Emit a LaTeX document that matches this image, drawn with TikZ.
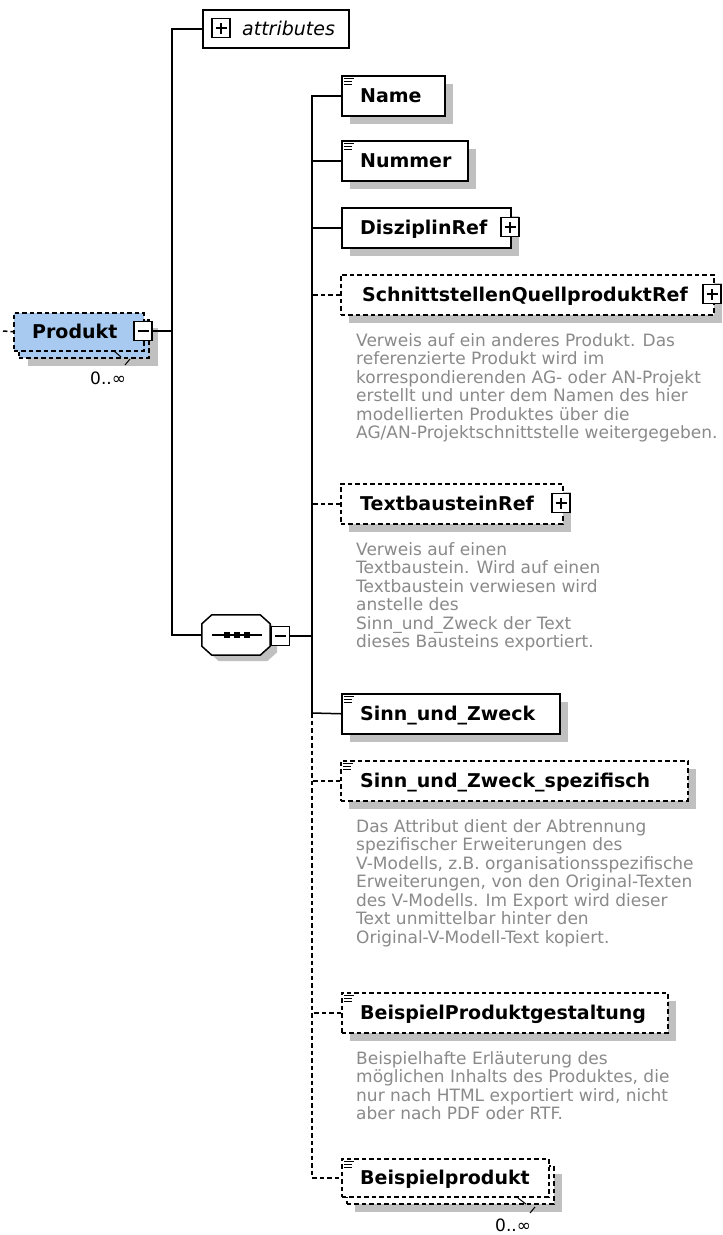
\documentclass[tikz,border=0pt]{standalone}
\usepackage{fontspec}
\setmainfont{DejaVu Sans}
\usetikzlibrary{shadows}
\definecolor{prodblue}{RGB}{168,202,240}
\definecolor{shadowc}{RGB}{192,192,192}
\definecolor{descc}{RGB}{138,138,138}
\newcommand\plusin[1]{\draw[pmsign] ([xshift=-5.5pt]#1.center) -- ([xshift=5.5pt]#1.center); \draw[pmsign] ([yshift=-5.5pt]#1.center) -- ([yshift=5.5pt]#1.center);}
\newcommand\minusin[1]{\draw[pmsign] ([xshift=-5.5pt]#1.center) -- ([xshift=5.5pt]#1.center);}
\newcommand\sicon[1]{\draw[iconl] ([shift={(3,3.5)}]#1.north west) -- ++(10,0); \draw[iconl] ([shift={(3,6.5)}]#1.north west) -- ++(8,0); \draw[iconl] ([shift={(3,9.5)}]#1.north west) -- ++(8,0);}
\begin{document}
\begin{tikzpicture}[x=1pt,y=-1pt,
  conn/.style={line width=1.5pt, black},
  dconn/.style={conn, dash pattern=on 4.5pt off 3pt},
  ebox/.style={draw, line width=1.5pt, fill=white, rectangle, anchor=north west, inner sep=0pt, minimum height=40pt},
  optbox/.style={ebox, dash pattern=on 4.5pt off 3pt},
  shad/.style={drop shadow={shadow xshift=8pt, shadow yshift=-8pt, fill=shadowc, opacity=1}},
  lbl/.style={anchor=base west, inner sep=0pt, font=\fontsize{19}{23}\selectfont\bfseries},
  desc/.style={anchor=base west, inner sep=0pt, text=descc, font=\fontsize{17}{20}\selectfont},
  occ/.style={anchor=base west, inner sep=0pt, font=\fontsize{17}{20}\selectfont},
  pm/.style={draw, line width=1.4pt, fill=white, minimum width=18pt, minimum height=19pt, inner sep=0pt},
  pmsign/.style={line width=1.3pt},
  iconl/.style={line width=1.3pt},
  tick/.style={line width=1pt},
]
\fill[white] (0,0) rectangle (723,1235);
\useasboundingbox (0,0) rectangle (723,1235);

% ---------- Produkt ----------
\node[optbox, fill=prodblue, minimum width=130pt, minimum height=38pt,
      drop shadow={shadow xshift=9pt, shadow yshift=-8pt, fill=shadowc, opacity=1}] (prodback) at (18,319) {};
\node[optbox, fill=prodblue, minimum width=130pt, minimum height=38pt] (prod) at (13,312) {};
\node[lbl] (prodt) at (32,338) {Produkt};
\node[pm] (prodpm) at (143,331) {};
\minusin{prodpm}
\draw[tick] (114,351) -- (121,357);
\draw[tick] (130,359) -- (125,365);
\node[occ] (prodocc) at (90,384) {0..∞};
\coordinate (stub) at (3,331);
\draw[dconn] (stub) -- (prod.west);

% ---------- attributes ----------
\node[ebox, minimum width=146pt, minimum height=38pt] (attr) at (202,9) {};
\node[pm] (attrpm) at (221,28) {};
\plusin{attrpm}
\node[anchor=base west, inner sep=0pt, font=\fontsize{19}{23}\selectfont\itshape] (attrt) at (242,35) {attributes};

% ---------- sequence ----------
\node[rectangle, minimum width=68pt, minimum height=40pt, inner sep=0pt] (seq) at (236,635) {};
\draw[line width=1.5pt, fill=white, drop shadow={shadow xshift=7pt, shadow yshift=-6pt, fill=shadowc, opacity=1}]
  ([xshift=10pt]seq.north west) -- ([xshift=-10pt]seq.north east) -- ([yshift=-9pt]seq.north east)
  -- ([yshift=9pt]seq.south east) -- ([xshift=-10pt]seq.south east) -- ([xshift=10pt]seq.south west)
  -- ([yshift=9pt]seq.south west) -- ([yshift=-9pt]seq.north west) -- cycle;
\draw[line width=1.5pt] ([xshift=-24pt]seq.center) -- ([xshift=26pt]seq.center);
\fill ([shift={(-12.5,-3)}]seq.center) rectangle +(6,6);
\fill ([shift={(-2.5,-3)}]seq.center) rectangle +(6,6);
\fill ([shift={(7.5,-3)}]seq.center) rectangle +(6,6);
\node[pm] (seqpm) at (280.5,636) {};
\minusin{seqpm}

% ---------- Produkt connectors ----------
\coordinate (j1) at (172,331);
\draw[conn] (prodpm.east) -- (j1);
\draw[conn] (attr.west) -| (j1);
\draw[conn] (seq.west) -| (j1);

% ---------- children ----------
\node[ebox, minimum width=103pt, shad] (name) at (341,75) {};
\sicon{name}
\node[lbl] (namet) at (360,102) {Name};

\node[ebox, minimum width=126pt, shad] (num) at (341,140) {};
\sicon{num}
\node[lbl] (numt) at (360,167) {Nummer};

\node[ebox, minimum width=169pt, shad] (diszi) at (341,207) {};
\node[lbl] (diszit) at (360,234) {DisziplinRef};
\node[pm] (diszipm) at (510,227) {};
\plusin{diszipm}

\node[optbox, minimum width=373pt, shad] (schn) at (340,274) {};
\node[lbl] (schnt) at (362,301) {SchnittstellenQuellproduktRef};
\node[pm] (schnpm) at (712,294) {};
\plusin{schnpm}
\node[desc] (schnd1) at (356,346) {Verweis auf ein anderes Produkt. Das};
\node[desc] (schnd2) at (356,364.5) {referenzierte Produkt wird im};
\node[desc] (schnd3) at (356,383) {korrespondierenden AG- oder AN-Projekt};
\node[desc] (schnd4) at (356,401.5) {erstellt und unter dem Namen des hier};
\node[desc] (schnd5) at (356,420) {modellierten Produktes über die};
\node[desc] (schnd6) at (356,438.5) {AG/AN-Projektschnittstelle weitergegeben.};

\node[optbox, minimum width=222pt, shad] (textb) at (340,483) {};
\node[lbl] (textbt) at (360,510) {TextbausteinRef};
\node[pm] (textbpm) at (561,503) {};
\plusin{textbpm}
\node[desc] (textbd1) at (356,555) {Verweis auf einen};
\node[desc] (textbd2) at (356,573.5) {Textbaustein. Wird auf einen};
\node[desc] (textbd3) at (356,592) {Textbaustein verwiesen wird};
\node[desc] (textbd4) at (356,610.5) {anstelle des};
\node[desc] (textbd5) at (356,629) {Sinn\_und\_Zweck der Text};
\node[desc] (textbd6) at (356,647.5) {dieses Bausteins exportiert.};

\node[ebox, minimum width=218pt, shad] (sinn) at (341,693) {};
\sicon{sinn}
\node[lbl] (sinnt) at (360,720) {Sinn\_und\_Zweck};

\node[optbox, minimum width=347pt, shad] (spez) at (340,760) {};
\sicon{spez}
\node[lbl] (spezt) at (360,787) {Sinn\_und\_Zweck\_spezifisch};
\node[desc] (spezd1) at (356,832) {Das Attribut dient der Abtrennung};
\node[desc] (spezd2) at (356,850.5) {spezifischer Erweiterungen des};
\node[desc] (spezd3) at (356,869) {V-Modells, z.B. organisationsspezifische};
\node[desc] (spezd4) at (356,887.5) {Erweiterungen, von den Original-Texten};
\node[desc] (spezd5) at (356,906) {des V-Modells. Im Export wird dieser};
\node[desc] (spezd6) at (356,924.5) {Text unmittelbar hinter den};
\node[desc] (spezd7) at (356,943) {Original-V-Modell-Text kopiert.};

\node[optbox, minimum width=326pt, shad] (bsp) at (341,992) {};
\sicon{bsp}
\node[lbl] (bspt) at (360,1019) {BeispielProduktgestaltung};
\node[desc] (bspd1) at (356,1064) {Beispielhafte Erläuterung des};
\node[desc] (bspd2) at (356,1082.5) {möglichen Inhalts des Produktes, die};
\node[desc] (bspd3) at (356,1101) {nur nach HTML exportiert wird, nicht};
\node[desc] (bspd4) at (356,1119.5) {aber nach PDF oder RTF.};

\node[optbox, minimum width=207pt, minimum height=38pt, shad] (bprodback) at (346,1165) {};
\node[optbox, minimum width=207pt, minimum height=38pt] (bprod) at (341,1158) {};
\sicon{bprod}
\node[lbl] (bprodt) at (360,1184) {Beispielprodukt};
\draw[tick] (518,1198) -- (526,1204);
\draw[tick] (535,1207) -- (530,1213);
\node[occ] (bprodocc) at (495,1231) {0..∞};

% ---------- child connectors ----------
\coordinate (cvMid) at (312,713);
\draw[conn] (name.west) -| (cvMid);
\draw[conn] (sinn.west) -- (cvMid);
\draw[dconn] (cvMid) |- (bprod.west);
\draw[conn] (num.west) -- (num.west -| cvMid);
\draw[conn] (diszi.west) -- (diszi.west -| cvMid);
\draw[dconn] (schn.west) -- (schn.west -| cvMid);
\draw[dconn] (textb.west) -- (textb.west -| cvMid);
\draw[conn] (seqpm.east) -- (seqpm.east -| cvMid);
\draw[dconn] (spez.west) -- (spez.west -| cvMid);
\draw[dconn] (bsp.west) -- (bsp.west -| cvMid);
\end{tikzpicture}
\end{document}
